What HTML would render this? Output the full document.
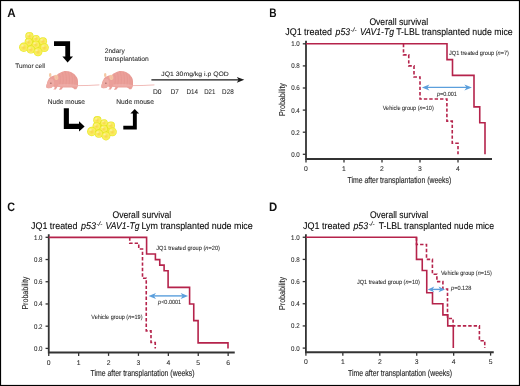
<!DOCTYPE html>
<html><head><meta charset="utf-8"><style>
html,body{margin:0;padding:0;background:#fff;overflow:hidden;width:520px;height:386px;}
svg{display:block;will-change:transform;text-rendering:geometricPrecision;font-family:"Liberation Sans",sans-serif;}
</style></head><body>
<svg width="520" height="386" viewBox="0 0 520 386">
<defs>
<radialGradient id="cell" cx="0.5" cy="0.5" r="0.5" fx="0.5" fy="0.55">
<stop offset="0" stop-color="#f7d848"/>
<stop offset="0.45" stop-color="#fae65c"/>
<stop offset="0.72" stop-color="#f8f060"/>
<stop offset="0.9" stop-color="#efec32"/>
<stop offset="1" stop-color="#e2e022"/>
</radialGradient>
<radialGradient id="hl" cx="0.5" cy="0.5" r="0.5">
<stop offset="0" stop-color="#fffbd0" stop-opacity="0.6"/>
<stop offset="1" stop-color="#fffbd0" stop-opacity="0"/>
</radialGradient>
</defs>
<rect x="0.5" y="0.5" width="519" height="385" fill="#fff" stroke="#000" stroke-width="1.2"/>
<text x="7.3" y="16.6" font-size="12.3" font-weight="bold" fill="#111" textLength="8.4" lengthAdjust="spacingAndGlyphs">A</text>
<text x="269.2" y="16.7" font-size="12.3" font-weight="bold" fill="#111" textLength="7.3" lengthAdjust="spacingAndGlyphs">B</text>
<text x="7.3" y="210.9" font-size="12.3" font-weight="bold" fill="#111" textLength="7.8" lengthAdjust="spacingAndGlyphs">C</text>
<text x="269.1" y="210.9" font-size="12.3" font-weight="bold" fill="#111" textLength="8.2" lengthAdjust="spacingAndGlyphs">D</text>
<path d="M306,40.7 V159 H492" fill="none" stroke="#333" stroke-width="1.8"/>
<path d="M302.8,154.30 H306" stroke="#333" stroke-width="1.3"/>
<text x="299.8" y="156.70" font-size="6.8" text-anchor="end" fill="#2a2a2a" textLength="8.6" lengthAdjust="spacingAndGlyphs" stroke="#2a2a2a" stroke-width="0.07">0.0</text>
<path d="M302.8,132.20 H306" stroke="#333" stroke-width="1.3"/>
<text x="299.8" y="134.60" font-size="6.8" text-anchor="end" fill="#2a2a2a" textLength="8.6" lengthAdjust="spacingAndGlyphs" stroke="#2a2a2a" stroke-width="0.07">0.2</text>
<path d="M302.8,110.10 H306" stroke="#333" stroke-width="1.3"/>
<text x="299.8" y="112.50" font-size="6.8" text-anchor="end" fill="#2a2a2a" textLength="8.6" lengthAdjust="spacingAndGlyphs" stroke="#2a2a2a" stroke-width="0.07">0.4</text>
<path d="M302.8,88.00 H306" stroke="#333" stroke-width="1.3"/>
<text x="299.8" y="90.40" font-size="6.8" text-anchor="end" fill="#2a2a2a" textLength="8.6" lengthAdjust="spacingAndGlyphs" stroke="#2a2a2a" stroke-width="0.07">0.6</text>
<path d="M302.8,65.90 H306" stroke="#333" stroke-width="1.3"/>
<text x="299.8" y="68.30" font-size="6.8" text-anchor="end" fill="#2a2a2a" textLength="8.6" lengthAdjust="spacingAndGlyphs" stroke="#2a2a2a" stroke-width="0.07">0.8</text>
<path d="M302.8,43.80 H306" stroke="#333" stroke-width="1.3"/>
<text x="299.8" y="46.20" font-size="6.8" text-anchor="end" fill="#2a2a2a" textLength="8.6" lengthAdjust="spacingAndGlyphs" stroke="#2a2a2a" stroke-width="0.07">1.0</text>
<path d="M306.00,159 V162.4" stroke="#333" stroke-width="1.3"/>
<text x="306.00" y="171" font-size="6.8" text-anchor="middle" fill="#2a2a2a" stroke="#2a2a2a" stroke-width="0.07">0</text>
<path d="M344.00,159 V162.4" stroke="#333" stroke-width="1.3"/>
<text x="344.00" y="171" font-size="6.8" text-anchor="middle" fill="#2a2a2a" stroke="#2a2a2a" stroke-width="0.07">1</text>
<path d="M382.00,159 V162.4" stroke="#333" stroke-width="1.3"/>
<text x="382.00" y="171" font-size="6.8" text-anchor="middle" fill="#2a2a2a" stroke="#2a2a2a" stroke-width="0.07">2</text>
<path d="M420.00,159 V162.4" stroke="#333" stroke-width="1.3"/>
<text x="420.00" y="171" font-size="6.8" text-anchor="middle" fill="#2a2a2a" stroke="#2a2a2a" stroke-width="0.07">3</text>
<path d="M458.00,159 V162.4" stroke="#333" stroke-width="1.3"/>
<text x="458.00" y="171" font-size="6.8" text-anchor="middle" fill="#2a2a2a" stroke="#2a2a2a" stroke-width="0.07">4</text>
<text transform="translate(285.3,99.6) rotate(-90)" font-size="8.6" text-anchor="middle" fill="#2a2a2a" stroke="#222" stroke-width="0.12" textLength="33" lengthAdjust="spacingAndGlyphs">Probability</text>
<text x="347.5" y="182.8" font-size="8.8" fill="#2a2a2a" textLength="103.75" lengthAdjust="spacingAndGlyphs" stroke="#2a2a2a" stroke-width="0.15">Time after transplantation (weeks)</text>
<path d="M306,43.8 H447 V59.6 H452.5 V75.4 H474 V106.9 H479.75 V122.7 H485 V154.3" fill="none" stroke="#b5234b" stroke-width="1.6"/>
<path d="M403.5,43.8 V54.85 H408.75 V65.9 H414 V76.95 H420 V99.05 H446.9 V121.15 H452.25 V143.25 H458 V154.3" fill="none" stroke="#b5234b" stroke-width="1.6" stroke-dasharray="3.4 2"/>
<text x="369.4" y="24.9" font-size="9.7" textLength="58.7" lengthAdjust="spacingAndGlyphs" stroke="#222" stroke-width="0.1">Overall survival</text>
<text x="285.25" y="34.9" font-size="9.7" textLength="46.6" lengthAdjust="spacingAndGlyphs" stroke="#222" stroke-width="0.1">JQ1 treated</text>
<text x="335.6" y="34.9" font-size="9.7" font-style="italic" textLength="14.4" lengthAdjust="spacingAndGlyphs" stroke="#222" stroke-width="0.1">p53</text>
<text x="350.6" y="31.9" font-size="6.4" font-style="italic" textLength="5.9" lengthAdjust="spacingAndGlyphs" stroke="#222" stroke-width="0.07">-/-</text>
<text x="360" y="34.9" font-size="9.7" font-style="italic" textLength="34" lengthAdjust="spacingAndGlyphs" stroke="#222" stroke-width="0.1">VAV1-Tg</text>
<text x="396.25" y="34.9" font-size="9.7" textLength="116.5" lengthAdjust="spacingAndGlyphs" stroke="#222" stroke-width="0.1">T-LBL transplanted nude mice</text>
<text x="449" y="55" font-size="6.2" fill="#2a2a2a" textLength="60" lengthAdjust="spacingAndGlyphs" stroke="#2a2a2a" stroke-width="0.07">JQ1 treated group (<tspan font-style="italic">n</tspan>=7)</text>
<text x="382.75" y="110" font-size="6.2" fill="#2a2a2a" textLength="51" lengthAdjust="spacingAndGlyphs" stroke="#2a2a2a" stroke-width="0.07">Vehicle group (<tspan font-style="italic">n</tspan>=10)</text>
<text x="436.9" y="96" font-size="6.2" fill="#2a2a2a" textLength="20" lengthAdjust="spacingAndGlyphs" stroke="#2a2a2a" stroke-width="0.07"><tspan font-style="italic">p</tspan>=0.001</text>
<path d="M48.75,234.3 V352.5 H234.75" fill="none" stroke="#333" stroke-width="1.8"/>
<path d="M45.55,348.40 H48.75" stroke="#333" stroke-width="1.3"/>
<text x="42.55" y="350.80" font-size="6.8" text-anchor="end" fill="#2a2a2a" textLength="8.6" lengthAdjust="spacingAndGlyphs" stroke="#2a2a2a" stroke-width="0.07">0.0</text>
<path d="M45.55,326.18 H48.75" stroke="#333" stroke-width="1.3"/>
<text x="42.55" y="328.58" font-size="6.8" text-anchor="end" fill="#2a2a2a" textLength="8.6" lengthAdjust="spacingAndGlyphs" stroke="#2a2a2a" stroke-width="0.07">0.2</text>
<path d="M45.55,303.96 H48.75" stroke="#333" stroke-width="1.3"/>
<text x="42.55" y="306.36" font-size="6.8" text-anchor="end" fill="#2a2a2a" textLength="8.6" lengthAdjust="spacingAndGlyphs" stroke="#2a2a2a" stroke-width="0.07">0.4</text>
<path d="M45.55,281.74 H48.75" stroke="#333" stroke-width="1.3"/>
<text x="42.55" y="284.14" font-size="6.8" text-anchor="end" fill="#2a2a2a" textLength="8.6" lengthAdjust="spacingAndGlyphs" stroke="#2a2a2a" stroke-width="0.07">0.6</text>
<path d="M45.55,259.52 H48.75" stroke="#333" stroke-width="1.3"/>
<text x="42.55" y="261.92" font-size="6.8" text-anchor="end" fill="#2a2a2a" textLength="8.6" lengthAdjust="spacingAndGlyphs" stroke="#2a2a2a" stroke-width="0.07">0.8</text>
<path d="M45.55,237.30 H48.75" stroke="#333" stroke-width="1.3"/>
<text x="42.55" y="239.70" font-size="6.8" text-anchor="end" fill="#2a2a2a" textLength="8.6" lengthAdjust="spacingAndGlyphs" stroke="#2a2a2a" stroke-width="0.07">1.0</text>
<path d="M48.75,352.5 V355.9" stroke="#333" stroke-width="1.3"/>
<text x="48.75" y="364.5" font-size="6.8" text-anchor="middle" fill="#2a2a2a" stroke="#2a2a2a" stroke-width="0.07">0</text>
<path d="M78.65,352.5 V355.9" stroke="#333" stroke-width="1.3"/>
<text x="78.65" y="364.5" font-size="6.8" text-anchor="middle" fill="#2a2a2a" stroke="#2a2a2a" stroke-width="0.07">1</text>
<path d="M108.55,352.5 V355.9" stroke="#333" stroke-width="1.3"/>
<text x="108.55" y="364.5" font-size="6.8" text-anchor="middle" fill="#2a2a2a" stroke="#2a2a2a" stroke-width="0.07">2</text>
<path d="M138.45,352.5 V355.9" stroke="#333" stroke-width="1.3"/>
<text x="138.45" y="364.5" font-size="6.8" text-anchor="middle" fill="#2a2a2a" stroke="#2a2a2a" stroke-width="0.07">3</text>
<path d="M168.35,352.5 V355.9" stroke="#333" stroke-width="1.3"/>
<text x="168.35" y="364.5" font-size="6.8" text-anchor="middle" fill="#2a2a2a" stroke="#2a2a2a" stroke-width="0.07">4</text>
<path d="M198.25,352.5 V355.9" stroke="#333" stroke-width="1.3"/>
<text x="198.25" y="364.5" font-size="6.8" text-anchor="middle" fill="#2a2a2a" stroke="#2a2a2a" stroke-width="0.07">5</text>
<path d="M228.15,352.5 V355.9" stroke="#333" stroke-width="1.3"/>
<text x="228.15" y="364.5" font-size="6.8" text-anchor="middle" fill="#2a2a2a" stroke="#2a2a2a" stroke-width="0.07">6</text>
<text transform="translate(28.3,293.1) rotate(-90)" font-size="8.6" text-anchor="middle" fill="#2a2a2a" stroke="#222" stroke-width="0.12" textLength="33" lengthAdjust="spacingAndGlyphs">Probability</text>
<text x="90.5" y="376.3" font-size="8.8" fill="#2a2a2a" textLength="104.0" lengthAdjust="spacingAndGlyphs" stroke="#2a2a2a" stroke-width="0.15">Time after transplantation (weeks)</text>
<path d="M48.75,237.40 H146.6 V254.05 H155.4 V259.60 H159.75 V265.15 H164.1 V270.70 H168.1 V287.35 H189.6 V304.00 H193.75 V320.65 H198.1 V342.85 H228 V348.40" fill="none" stroke="#b5234b" stroke-width="1.6"/>
<path d="M129.75,237.40 V243.30 H138.75 V249.00 H142.5 V278.20 H146.25 V330.90 H151 V342.56 H155.25 V348.40" fill="none" stroke="#b5234b" stroke-width="1.6" stroke-dasharray="3.4 2"/>
<text x="112.5" y="218.1" font-size="9.7" textLength="58.7" lengthAdjust="spacingAndGlyphs" stroke="#222" stroke-width="0.1">Overall survival</text>
<text x="31.1" y="228.7" font-size="9.7" textLength="46.3" lengthAdjust="spacingAndGlyphs" stroke="#222" stroke-width="0.1">JQ1 treated</text>
<text x="81" y="228.7" font-size="9.7" font-style="italic" textLength="15" lengthAdjust="spacingAndGlyphs" stroke="#222" stroke-width="0.1">p53</text>
<text x="96.4" y="225.6" font-size="6.4" font-style="italic" textLength="5.9" lengthAdjust="spacingAndGlyphs" stroke="#222" stroke-width="0.07">-/-</text>
<text x="105.6" y="228.7" font-size="9.7" font-style="italic" textLength="33.8" lengthAdjust="spacingAndGlyphs" stroke="#222" stroke-width="0.1">VAV1-Tg</text>
<text x="141.5" y="228.7" font-size="9.7" textLength="111.25" lengthAdjust="spacingAndGlyphs" stroke="#222" stroke-width="0.1">Lym transplanted nude mice</text>
<text x="156.25" y="249.75" font-size="6.2" fill="#2a2a2a" textLength="63.75" lengthAdjust="spacingAndGlyphs" stroke="#2a2a2a" stroke-width="0.07">JQ1 treated group (<tspan font-style="italic">n</tspan>=20)</text>
<text x="91.25" y="319.1" font-size="6.2" fill="#2a2a2a" textLength="51.25" lengthAdjust="spacingAndGlyphs" stroke="#2a2a2a" stroke-width="0.07">Vehicle group (<tspan font-style="italic">n</tspan>=19)</text>
<text x="158.1" y="304.25" font-size="6.2" fill="#2a2a2a" textLength="23.1" lengthAdjust="spacingAndGlyphs" stroke="#2a2a2a" stroke-width="0.07"><tspan font-style="italic">p</tspan>&lt;0.0001</text>
<path d="M305.9,234.2 V352.25 H493.75" fill="none" stroke="#333" stroke-width="1.8"/>
<path d="M302.7,348.10 H305.9" stroke="#333" stroke-width="1.3"/>
<text x="299.7" y="350.50" font-size="6.8" text-anchor="end" fill="#2a2a2a" textLength="8.6" lengthAdjust="spacingAndGlyphs" stroke="#2a2a2a" stroke-width="0.07">0.0</text>
<path d="M302.7,325.93 H305.9" stroke="#333" stroke-width="1.3"/>
<text x="299.7" y="328.33" font-size="6.8" text-anchor="end" fill="#2a2a2a" textLength="8.6" lengthAdjust="spacingAndGlyphs" stroke="#2a2a2a" stroke-width="0.07">0.2</text>
<path d="M302.7,303.76 H305.9" stroke="#333" stroke-width="1.3"/>
<text x="299.7" y="306.16" font-size="6.8" text-anchor="end" fill="#2a2a2a" textLength="8.6" lengthAdjust="spacingAndGlyphs" stroke="#2a2a2a" stroke-width="0.07">0.4</text>
<path d="M302.7,281.59 H305.9" stroke="#333" stroke-width="1.3"/>
<text x="299.7" y="283.99" font-size="6.8" text-anchor="end" fill="#2a2a2a" textLength="8.6" lengthAdjust="spacingAndGlyphs" stroke="#2a2a2a" stroke-width="0.07">0.6</text>
<path d="M302.7,259.42 H305.9" stroke="#333" stroke-width="1.3"/>
<text x="299.7" y="261.82" font-size="6.8" text-anchor="end" fill="#2a2a2a" textLength="8.6" lengthAdjust="spacingAndGlyphs" stroke="#2a2a2a" stroke-width="0.07">0.8</text>
<path d="M302.7,237.25 H305.9" stroke="#333" stroke-width="1.3"/>
<text x="299.7" y="239.65" font-size="6.8" text-anchor="end" fill="#2a2a2a" textLength="8.6" lengthAdjust="spacingAndGlyphs" stroke="#2a2a2a" stroke-width="0.07">1.0</text>
<path d="M305.90,352.25 V355.65" stroke="#333" stroke-width="1.3"/>
<text x="305.90" y="364.25" font-size="6.8" text-anchor="middle" fill="#2a2a2a" stroke="#2a2a2a" stroke-width="0.07">0</text>
<path d="M342.84,352.25 V355.65" stroke="#333" stroke-width="1.3"/>
<text x="342.84" y="364.25" font-size="6.8" text-anchor="middle" fill="#2a2a2a" stroke="#2a2a2a" stroke-width="0.07">1</text>
<path d="M379.78,352.25 V355.65" stroke="#333" stroke-width="1.3"/>
<text x="379.78" y="364.25" font-size="6.8" text-anchor="middle" fill="#2a2a2a" stroke="#2a2a2a" stroke-width="0.07">2</text>
<path d="M416.72,352.25 V355.65" stroke="#333" stroke-width="1.3"/>
<text x="416.72" y="364.25" font-size="6.8" text-anchor="middle" fill="#2a2a2a" stroke="#2a2a2a" stroke-width="0.07">3</text>
<path d="M453.66,352.25 V355.65" stroke="#333" stroke-width="1.3"/>
<text x="453.66" y="364.25" font-size="6.8" text-anchor="middle" fill="#2a2a2a" stroke="#2a2a2a" stroke-width="0.07">4</text>
<path d="M490.60,352.25 V355.65" stroke="#333" stroke-width="1.3"/>
<text x="490.60" y="364.25" font-size="6.8" text-anchor="middle" fill="#2a2a2a" stroke="#2a2a2a" stroke-width="0.07">5</text>
<text transform="translate(285.1,293.4) rotate(-90)" font-size="8.6" text-anchor="middle" fill="#2a2a2a" stroke="#222" stroke-width="0.12" textLength="33" lengthAdjust="spacingAndGlyphs">Probability</text>
<text x="348" y="376.3" font-size="8.8" fill="#2a2a2a" textLength="104" lengthAdjust="spacingAndGlyphs" stroke="#2a2a2a" stroke-width="0.15">Time after transplantation (weeks)</text>
<path d="M305.9,237.25 H416.5 V259.4 H422.25 V270.5 H426.75 V292.7 H432.5 V303.76 H442.9 V314.85 H447.75 V325.9 H453.3 V348.1" fill="none" stroke="#b5234b" stroke-width="1.6"/>
<path d="M416.5,237.25 V244.45 H426.5 V259.4 H432.4 V274.2 H436.9 V281.6 H442.9 V289 H447.5 V318.5 H453.1 V325.9 H479.4 V340.7 H484.75 V348.1" fill="none" stroke="#b5234b" stroke-width="1.6" stroke-dasharray="3.4 2"/>
<text x="370" y="218.1" font-size="9.7" textLength="58.2" lengthAdjust="spacingAndGlyphs" stroke="#222" stroke-width="0.1">Overall survival</text>
<text x="303.1" y="228.7" font-size="9.7" textLength="46.9" lengthAdjust="spacingAndGlyphs" stroke="#222" stroke-width="0.1">JQ1 treated</text>
<text x="353.5" y="228.7" font-size="9.7" font-style="italic" textLength="14.6" lengthAdjust="spacingAndGlyphs" stroke="#222" stroke-width="0.1">p53</text>
<text x="368.8" y="225.6" font-size="6.4" font-style="italic" textLength="5.9" lengthAdjust="spacingAndGlyphs" stroke="#222" stroke-width="0.07">-/-</text>
<text x="378.75" y="228.7" font-size="9.7" textLength="115.25" lengthAdjust="spacingAndGlyphs" stroke="#222" stroke-width="0.1">T-LBL transplanted nude mice</text>
<text x="441" y="275.25" font-size="6.2" fill="#2a2a2a" textLength="50.9" lengthAdjust="spacingAndGlyphs" stroke="#2a2a2a" stroke-width="0.07">Vehicle group (<tspan font-style="italic">n</tspan>=15)</text>
<text x="356.9" y="284.1" font-size="6.2" fill="#2a2a2a" textLength="63.1" lengthAdjust="spacingAndGlyphs" stroke="#2a2a2a" stroke-width="0.07">JQ1 treated group (<tspan font-style="italic">n</tspan>=10)</text>
<text x="451" y="290.4" font-size="6.2" fill="#2a2a2a" textLength="20.5" lengthAdjust="spacingAndGlyphs" stroke="#2a2a2a" stroke-width="0.07"><tspan font-style="italic">p</tspan>=0.128</text>
<path d="M426.79999999999995,87.4 H467.0" stroke="#5b9fdc" stroke-width="1.4"/><path d="M421.9,87.4 L429.4,84.4 L427.29999999999995,87.4 L429.4,90.4 Z" fill="#5b9fdc"/><path d="M471.9,87.4 L464.4,84.4 L466.5,87.4 L464.4,90.4 Z" fill="#5b9fdc"/>
<path d="M153.4,295.9 H183.2" stroke="#5b9fdc" stroke-width="1.4"/><path d="M148.5,295.9 L156.0,292.9 L153.9,295.9 L156.0,298.9 Z" fill="#5b9fdc"/><path d="M188.1,295.9 L180.6,292.9 L182.7,295.9 L180.6,298.9 Z" fill="#5b9fdc"/>
<path d="M431.93,289.4 H440.82" stroke="#5b9fdc" stroke-width="1.4"/><path d="M427.75,289.4 L434.25,286.59999999999997 L432.43,289.4 L434.25,292.2 Z" fill="#5b9fdc"/><path d="M445,289.4 L438.5,286.59999999999997 L440.32,289.4 L438.5,292.2 Z" fill="#5b9fdc"/>
<path d="M27,37 L37,38 L43,42 L44,48 L38,52 L31,50 L24,47 Z" fill="#f4ea40"/><circle cx="29.40" cy="36.00" r="4.1" fill="url(#cell)"/><ellipse cx="28.17" cy="34.56" rx="1.84" ry="1.43" fill="url(#hl)"/><circle cx="36.10" cy="38.60" r="3.6" fill="url(#cell)"/><ellipse cx="35.02" cy="37.34" rx="1.62" ry="1.26" fill="url(#hl)"/><circle cx="42.90" cy="41.30" r="4.1" fill="url(#cell)"/><ellipse cx="41.67" cy="39.86" rx="1.84" ry="1.43" fill="url(#hl)"/><circle cx="28.60" cy="42.00" r="4.0" fill="url(#cell)"/><ellipse cx="27.40" cy="40.60" rx="1.80" ry="1.40" fill="url(#hl)"/><circle cx="35.80" cy="44.60" r="3.9" fill="url(#cell)"/><ellipse cx="34.63" cy="43.23" rx="1.75" ry="1.36" fill="url(#hl)"/><circle cx="23.80" cy="47.30" r="4.7" fill="url(#cell)"/><ellipse cx="22.39" cy="45.65" rx="2.12" ry="1.65" fill="url(#hl)"/><circle cx="30.90" cy="49.50" r="4.1" fill="url(#cell)"/><ellipse cx="29.67" cy="48.06" rx="1.84" ry="1.43" fill="url(#hl)"/><circle cx="44.40" cy="47.60" r="4.4" fill="url(#cell)"/><ellipse cx="43.08" cy="46.06" rx="1.98" ry="1.54" fill="url(#hl)"/><circle cx="38.00" cy="51.80" r="4.4" fill="url(#cell)"/><ellipse cx="36.68" cy="50.26" rx="1.98" ry="1.54" fill="url(#hl)"/>
<path d="M95,121.2 L105,122.2 L111,126.2 L112,132.2 L106,136.2 L99,134.2 L92,131.2 Z" fill="#f4ea40"/><circle cx="97.40" cy="120.20" r="4.1" fill="url(#cell)"/><ellipse cx="96.17" cy="118.77" rx="1.84" ry="1.43" fill="url(#hl)"/><circle cx="104.10" cy="122.80" r="3.6" fill="url(#cell)"/><ellipse cx="103.02" cy="121.54" rx="1.62" ry="1.26" fill="url(#hl)"/><circle cx="110.90" cy="125.50" r="4.1" fill="url(#cell)"/><ellipse cx="109.67" cy="124.06" rx="1.84" ry="1.43" fill="url(#hl)"/><circle cx="96.60" cy="126.20" r="4.0" fill="url(#cell)"/><ellipse cx="95.40" cy="124.80" rx="1.80" ry="1.40" fill="url(#hl)"/><circle cx="103.80" cy="128.80" r="3.9" fill="url(#cell)"/><ellipse cx="102.63" cy="127.44" rx="1.75" ry="1.36" fill="url(#hl)"/><circle cx="91.80" cy="131.50" r="4.7" fill="url(#cell)"/><ellipse cx="90.39" cy="129.85" rx="2.12" ry="1.65" fill="url(#hl)"/><circle cx="98.90" cy="133.70" r="4.1" fill="url(#cell)"/><ellipse cx="97.67" cy="132.26" rx="1.84" ry="1.43" fill="url(#hl)"/><circle cx="112.40" cy="131.80" r="4.4" fill="url(#cell)"/><ellipse cx="111.08" cy="130.26" rx="1.98" ry="1.54" fill="url(#hl)"/><circle cx="106.00" cy="136.00" r="4.4" fill="url(#cell)"/><ellipse cx="104.68" cy="134.46" rx="1.98" ry="1.54" fill="url(#hl)"/>
<text x="15.25" y="67.8" font-size="6.4" fill="#2a2a2a" textLength="29.75" lengthAdjust="spacingAndGlyphs" stroke="#2a2a2a" stroke-width="0.07">Tumor cell</text>
<text x="47.75" y="104.2" font-size="6.8" fill="#2a2a2a" textLength="37.25" lengthAdjust="spacingAndGlyphs" stroke="#2a2a2a" stroke-width="0.07">Nude mouse</text>
<text x="116.2" y="104.2" font-size="6.8" fill="#2a2a2a" textLength="37.7" lengthAdjust="spacingAndGlyphs" stroke="#2a2a2a" stroke-width="0.07">Nude mouse</text>
<text x="104.75" y="53.1" font-size="6.6" fill="#2a2a2a" textLength="20" lengthAdjust="spacingAndGlyphs" stroke="#2a2a2a" stroke-width="0.07">2ndary</text>
<text x="104.75" y="60.6" font-size="6.6" fill="#2a2a2a" textLength="44" lengthAdjust="spacingAndGlyphs" stroke="#2a2a2a" stroke-width="0.07">transplantation</text>
<text x="161.3" y="75.7" font-size="6.3" fill="#2a2a2a" textLength="67.5" lengthAdjust="spacingAndGlyphs" stroke="#2a2a2a" stroke-width="0.07">JQ1 30mg/kg i.p QOD</text>
<text x="152.9" y="93.7" font-size="6.9" fill="#2a2a2a" textLength="8.6" lengthAdjust="spacingAndGlyphs" stroke="#2a2a2a" stroke-width="0.07">D0</text>
<text x="170.7" y="93.7" font-size="6.9" fill="#2a2a2a" textLength="8.1" lengthAdjust="spacingAndGlyphs" stroke="#2a2a2a" stroke-width="0.07">D7</text>
<text x="186.5" y="93.7" font-size="6.9" fill="#2a2a2a" textLength="11.5" lengthAdjust="spacingAndGlyphs" stroke="#2a2a2a" stroke-width="0.07">D14</text>
<text x="204.2" y="93.7" font-size="6.9" fill="#2a2a2a" textLength="11.2" lengthAdjust="spacingAndGlyphs" stroke="#2a2a2a" stroke-width="0.07">D21</text>
<text x="222.1" y="93.7" font-size="6.9" fill="#2a2a2a" textLength="11.6" lengthAdjust="spacingAndGlyphs" stroke="#2a2a2a" stroke-width="0.07">D28</text>
<path d="M151.4,79.8 H240" stroke="#1a1a1a" stroke-width="1.3"/>
<path d="M244.3,79.8 L236.8,76.9 L238.6,79.8 L236.8,82.7 Z" fill="#1a1a1a"/>
<path d="M54,41.3 H70.1 V57 H65.3 V45.9 H54 Z" fill="#000"/>
<path d="M62.4,56.6 H73 L67.6,62.4 Z" fill="#000"/>
<path d="M63.8,108.3 H68.9 V123.8 H80 V129 H63.8 Z" fill="#000"/>
<path d="M79,121.2 V131.6 L84.6,126.4 Z" fill="#000"/>
<path d="M123.3,125.7 H132.9 V112.5 H136.8 V129.6 H123.3 Z" fill="#000"/>
<path d="M130.4,113.6 H139.1 L134.7,109 Z" fill="#000"/>
<g transform="translate(0,0)">
<path d="M77,85.6 C84,85.8 92,85.3 99.4,84.9" fill="none" stroke="#eeaaa6" stroke-width="0.8"/>
<path d="M46.3,87.7 C46.0,86 46.3,84.8 46.8,84.1 C47.2,82 47.6,80.5 48.4,79.7 C49,78 50,76.8 51.3,76.4 C53,75.6 55,75.2 56.8,74.9 C58,73.8 59,73.1 60.1,72.75 C62,71.5 64,70.9 65.9,70.9 C69.5,70.9 72.8,72.5 74.7,74.6 C76.8,76.8 78,79 78,81.2 C78.1,83.5 78,85.3 77.8,86.6 L76.8,88.4 L76.2,89.2 L74.2,89.3 L73.5,88.2 L71.8,87.6 L63,87.4 L61.5,89.6 L59.2,90.1 L59.4,88.9 L60.5,87.2 L57.5,86.8 L56.4,88.6 L55.8,89.6 L53.2,89.6 L54.4,88.6 L54.6,86.9 L52.8,86.6 L51.3,88 L48,88.3 Z" fill="#eb9f99"/>
<path d="M46.8,86.8 C46.6,84.5 47.5,81.5 49,79.5 C50.5,78.2 52.5,78.4 53.5,80 C54.5,82 54.3,85 53,86.6 L51.3,88 L48,88.2 Z" fill="#efb0aa" opacity="0.7"/>
<g stroke="#dc8a85" stroke-width="0.4" fill="none" opacity="0.75">
<path d="M59.5,74.5 C60.5,77.5 60.5,81 59.8,84.5"/><path d="M62.3,72.6 C63.5,76 63.6,80.5 62.8,85"/><path d="M65.2,71.6 C66.6,75.5 66.7,80.5 65.9,85.5"/><path d="M68.2,71.8 C69.7,75.5 69.8,80.5 69,85.5"/><path d="M71.2,72.8 C72.6,76.2 72.7,80.5 72,85.5"/><path d="M74,74.6 C75.2,77.6 75.3,81 74.8,85.3"/><path d="M76.3,77.2 C77.1,79.6 77.2,82.4 76.9,85"/>
</g>
<path d="M58,84.5 C63,83.6 71,83.8 77.6,85 L77.4,86.4 C71,86.4 64,86.6 58.5,86.6 Z" fill="#f3c4bf" opacity="0.35"/>
<ellipse cx="50.2" cy="75.1" rx="1.25" ry="2.1" fill="#f5c9a3"/>
<ellipse cx="56.3" cy="77.4" rx="2.0" ry="2.7" fill="#f5c9a3" transform="rotate(-12 56.3 77.4)"/>
<ellipse cx="56.5" cy="77.6" rx="1.1" ry="1.7" fill="#f2b6a2" transform="rotate(-12 56.5 77.6)" opacity="0.7"/>
<circle cx="50.9" cy="83.2" r="0.6" fill="#8a4a48"/>
</g>
<g transform="translate(55,0)">
<path d="M77,85.6 C84,85.8 92,85.3 99.4,84.9" fill="none" stroke="#eeaaa6" stroke-width="0.8"/>
<path d="M46.3,87.7 C46.0,86 46.3,84.8 46.8,84.1 C47.2,82 47.6,80.5 48.4,79.7 C49,78 50,76.8 51.3,76.4 C53,75.6 55,75.2 56.8,74.9 C58,73.8 59,73.1 60.1,72.75 C62,71.5 64,70.9 65.9,70.9 C69.5,70.9 72.8,72.5 74.7,74.6 C76.8,76.8 78,79 78,81.2 C78.1,83.5 78,85.3 77.8,86.6 L76.8,88.4 L76.2,89.2 L74.2,89.3 L73.5,88.2 L71.8,87.6 L63,87.4 L61.5,89.6 L59.2,90.1 L59.4,88.9 L60.5,87.2 L57.5,86.8 L56.4,88.6 L55.8,89.6 L53.2,89.6 L54.4,88.6 L54.6,86.9 L52.8,86.6 L51.3,88 L48,88.3 Z" fill="#eb9f99"/>
<path d="M46.8,86.8 C46.6,84.5 47.5,81.5 49,79.5 C50.5,78.2 52.5,78.4 53.5,80 C54.5,82 54.3,85 53,86.6 L51.3,88 L48,88.2 Z" fill="#efb0aa" opacity="0.7"/>
<g stroke="#dc8a85" stroke-width="0.4" fill="none" opacity="0.75">
<path d="M59.5,74.5 C60.5,77.5 60.5,81 59.8,84.5"/><path d="M62.3,72.6 C63.5,76 63.6,80.5 62.8,85"/><path d="M65.2,71.6 C66.6,75.5 66.7,80.5 65.9,85.5"/><path d="M68.2,71.8 C69.7,75.5 69.8,80.5 69,85.5"/><path d="M71.2,72.8 C72.6,76.2 72.7,80.5 72,85.5"/><path d="M74,74.6 C75.2,77.6 75.3,81 74.8,85.3"/><path d="M76.3,77.2 C77.1,79.6 77.2,82.4 76.9,85"/>
</g>
<path d="M58,84.5 C63,83.6 71,83.8 77.6,85 L77.4,86.4 C71,86.4 64,86.6 58.5,86.6 Z" fill="#f3c4bf" opacity="0.35"/>
<ellipse cx="50.2" cy="75.1" rx="1.25" ry="2.1" fill="#f5c9a3"/>
<ellipse cx="56.3" cy="77.4" rx="2.0" ry="2.7" fill="#f5c9a3" transform="rotate(-12 56.3 77.4)"/>
<ellipse cx="56.5" cy="77.6" rx="1.1" ry="1.7" fill="#f2b6a2" transform="rotate(-12 56.5 77.6)" opacity="0.7"/>
<circle cx="50.9" cy="83.2" r="0.6" fill="#8a4a48"/>
</g>
</svg>
</body></html>
